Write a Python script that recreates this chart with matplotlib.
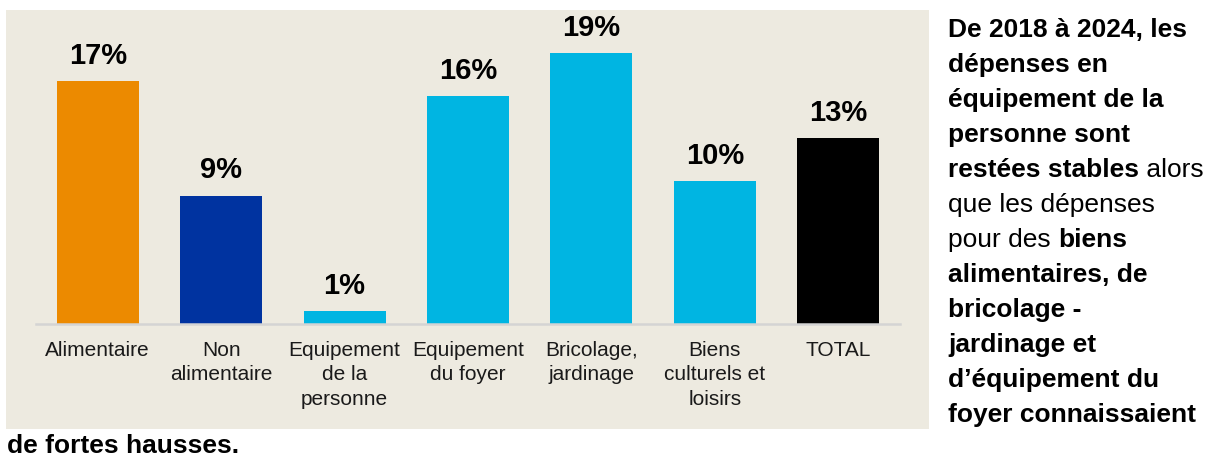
import matplotlib
matplotlib.use("Agg")
from matplotlib import pyplot as plt
from matplotlib.patches import Rectangle

categories = ["Alimentaire", "Non\nalimentaire", "Equipement\nde la\npersonne",
              "Equipement\ndu foyer", "Bricolage,\njardinage",
              "Biens\nculturels et\nloisirs", "TOTAL"]
values = [17, 9, 0.9, 16, 19, 10, 13]
labels = ["17%", "9%", "1%", "16%", "19%", "10%", "13%"]
colors = ["#EC8A00", "#0033A0", "#00B5E2", "#00B5E2", "#00B5E2", "#00B5E2", "#000000"]

# right-hand comment, one list of (text, bold) runs per line
comment = [
    [("De 2018 à 2024, les", True)],
    [("dépenses en", True)],
    [("équipement de la", True)],
    [("personne sont", True)],
    [("restées stables", True), (" alors", False)],
    [("que les dépenses", False)],
    [("pour des ", False), ("biens", True)],
    [("alimentaires, de", True)],
    [("bricolage -", True)],
    [("jardinage et", True)],
    [("d’équipement du", True)],
    [("foyer connaissaient", True)],
]
last_line = "de fortes hausses."

plt.rcParams["font.family"] = ["Liberation Sans", "DejaVu Sans"]

W, H = 1206, 459
fig = plt.figure(figsize=(W / 100, H / 100), dpi=100)

# beige panel behind the chart
fig.patches.append(Rectangle((6 / W, 1 - 429 / H), 923 / W, 419 / H,
                             transform=fig.transFigure, facecolor="#EDEAE0",
                             edgecolor="none", zorder=-10))

ax = fig.add_axes([36 / W, 1 - 324 / H, 864 / W, 314 / H])
ax.set_zorder(1)
ax.set_facecolor("none")
x = range(len(categories))
bars = ax.bar(x, values, width=0.665, color=colors)
ax.set_xlim(-0.5, len(categories) - 0.5)
ax.set_ylim(0, 22)

for b, lab in zip(bars, labels):
    ax.annotate(lab, (b.get_x() + b.get_width() / 2, b.get_height()),
                xytext=(0, 8), textcoords="offset points",
                ha="center", va="bottom", fontsize=21, fontweight="bold")

ax.set_xticks(list(x))
ax.set_xticklabels(categories, fontsize=15, color="#1a1a1a", linespacing=1.38)
ax.tick_params(axis="x", length=0, pad=12)
ax.set_yticks([])
for s in ["top", "left", "right"]:
    ax.spines[s].set_visible(False)
ax.spines["bottom"].set_color("#D4D4D4")
ax.spines["bottom"].set_linewidth(1.8)

# comment text, built run by run
renderer = fig.canvas.get_renderer()
x0 = 948
y0 = 36.7
step = 35
for i, runs in enumerate(comment):
    xp = x0
    for txt, bold in runs:
        t = fig.text(xp / W, 1 - (y0 + i * step) / H, txt, fontsize=19,
                     fontweight="bold" if bold else "normal",
                     ha="left", va="baseline", color="black")
        xp += t.get_window_extent(renderer).width
fig.text(7 / W, 1 - 453 / H, last_line, fontsize=19, fontweight="bold",
         ha="left", va="baseline", color="black")

fig.savefig("out.png", dpi=100)
